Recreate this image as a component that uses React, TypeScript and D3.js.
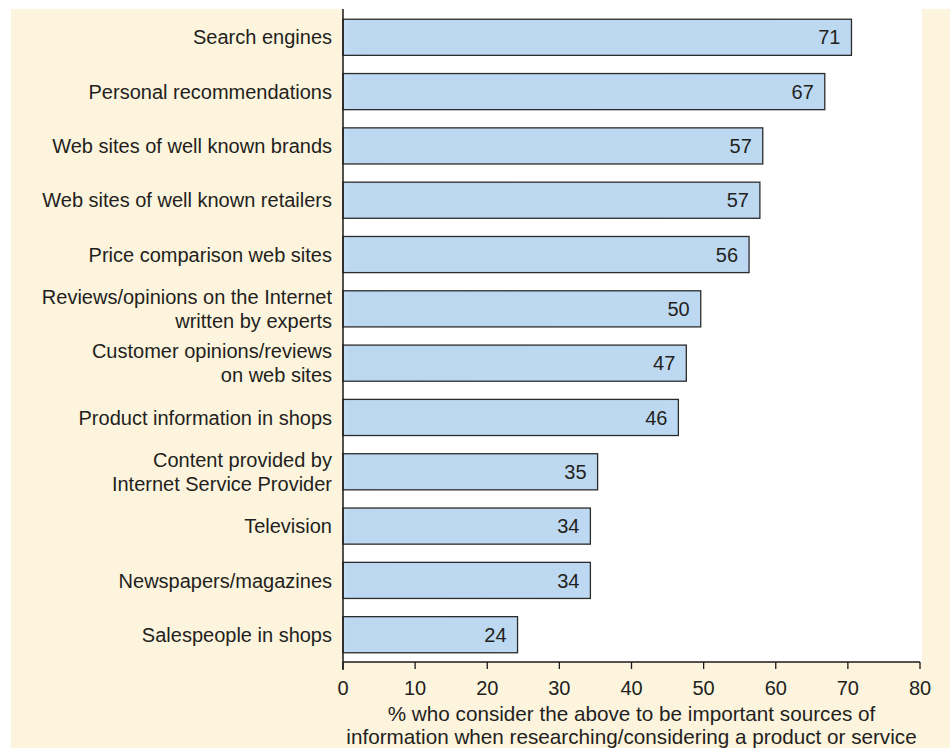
import React from "react";
import * as d3 from "d3";

const categories: string[][] = [
  ["Search engines"],
  ["Personal recommendations"],
  ["Web sites of well known brands"],
  ["Web sites of well known retailers"],
  ["Price comparison web sites"],
  ["Reviews/opinions on the Internet", "written by experts"],
  ["Customer opinions/reviews", "on web sites"],
  ["Product information in shops"],
  ["Content provided by", "Internet Service Provider"],
  ["Television"],
  ["Newspapers/magazines"],
  ["Salespeople in shops"],
];
const values: number[] = [70.5, 66.8, 58.2, 57.8, 56.3, 49.6, 47.6, 46.5, 35.3, 34.3, 34.3, 24.2];
const valueLabels: string[] = ["71", "67", "57", "57", "56", "50", "47", "46", "35", "34", "34", "24"];
const ticks: number[] = [0, 10, 20, 30, 40, 50, 60, 70, 80];
const axisTitle: string[] = [
  "% who consider the above to be important sources of",
  "information when researching/considering a product or service",
];

export default function App() {
  const W = 950;
  const H = 748;
  const left = 343;
  const right = 920;
  const top = 10;
  const bottom = 662;
  const x = d3.scaleLinear().domain([0, 80]).range([left, right]);
  const y = d3
    .scaleBand<number>()
    .domain(d3.range(categories.length))
    .range([top, bottom])
    .paddingInner(0.335)
    .paddingOuter(0.17);
  const font = "'Liberation Sans', Arial, sans-serif";
  const textColor = "#231f20";
  const fs = 20;
  return (
    <svg
      width={W}
      height={H}
      style={{ position: "absolute", left: 0, top: 0, display: "block" }}
      fontFamily={font}
    >
      <defs>
        <linearGradient id="barGrad" x1="0" x2="1" y1="0" y2="0">
          <stop offset="0" stopColor="#c4def5" />
          <stop offset="0.02" stopColor="#bcd8f1" />
          <stop offset="1" stopColor="#bdd9f2" />
        </linearGradient>
      </defs>
      <rect x={0} y={0} width={W} height={H} fill="#ffffff" />
      <rect x={11} y={9} width={W - 11} height={H - 9} fill="#fdf4de" />
      <rect x={left} y={9} width={right - left + 2} height={bottom - 9} fill="#ffffff" />
      {categories.map((lines, i) => {
        const by = y(i)!;
        const bh = y.bandwidth();
        const cy = by + bh / 2;
        const lh = 24;
        return (
          <g key={i}>
            <rect
              x={x(0)}
              y={by}
              width={x(values[i]) - x(0)}
              height={bh}
              fill="url(#barGrad)"
              stroke="#2b2b2b"
              strokeWidth={1.3}
            />
            <text
              x={x(values[i]) - 11}
              y={cy}
              dy="0.36em"
              textAnchor="end"
              fontSize={fs}
              fill={textColor}
            >
              {valueLabels[i]}
            </text>
            {lines.map((ln, j) => (
              <text
                key={j}
                x={332}
                y={cy + (j - (lines.length - 1) / 2) * lh}
                dy="0.36em"
                textAnchor="end"
                fontSize={fs}
                fill={textColor}
              >
                {ln}
              </text>
            ))}
          </g>
        );
      })}
      <line x1={left} x2={left} y1={9} y2={bottom + 8} stroke="#1a1a1a" strokeWidth={1.5} />
      <line x1={left} x2={x(80)} y1={bottom} y2={bottom} stroke="#1a1a1a" strokeWidth={1.5} />
      {ticks.map((t) => (
        <g key={t}>
          <line x1={x(t)} x2={x(t)} y1={bottom} y2={bottom + 7} stroke="#1a1a1a" strokeWidth={1.3} />
          <text x={x(t)} y={688} dy="0.36em" textAnchor="middle" fontSize={fs} fill={textColor}>
            {t}
          </text>
        </g>
      ))}
      {axisTitle.map((ln, j) => (
        <text
          key={j}
          x={(left + x(80)) / 2}
          y={714 + j * 23}
          dy="0.36em"
          textAnchor="middle"
          fontSize={20.7}
          fill={textColor}
        >
          {ln}
        </text>
      ))}
    </svg>
  );
}
